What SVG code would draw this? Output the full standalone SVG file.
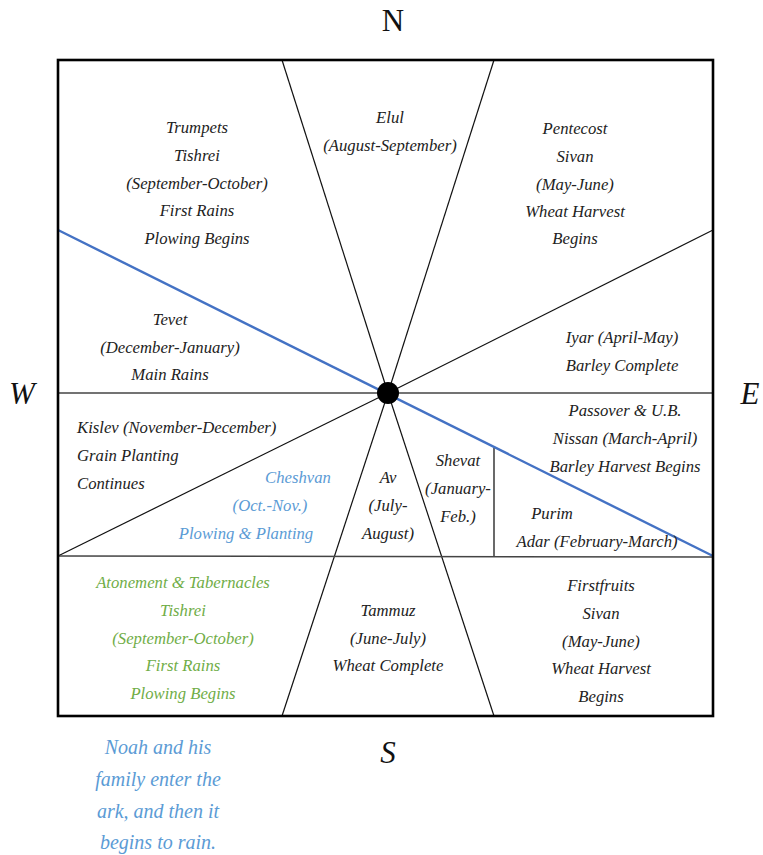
<svg xmlns="http://www.w3.org/2000/svg" width="763" height="855" viewBox="0 0 763 855">
  <style>
    .t { font-family: "Liberation Serif", "DejaVu Serif", serif; font-style: italic; font-size: 16.7px; fill: #222; text-anchor: middle; }
    .t.start { text-anchor: start; }
    .blue { fill: #5b9bd5; }
    .green { fill: #70ad47; }
    .big { font-size: 20px; }
    .dir { font-family: "Liberation Serif", "DejaVu Serif", serif; font-size: 31px; fill: #111; text-anchor: middle; }
    .ln { stroke: #111; stroke-width: 1.2; fill: none; }
    .gray { stroke: #444; stroke-width: 1.6; fill: none; }
  </style>

  <!-- compass points -->
  <g id="compass">
    <text class="dir" x="393" y="31">N</text>
    <text class="dir" x="22" y="404" font-style="italic">W</text>
    <text class="dir" x="750" y="404" font-style="italic">E</text>
    <text class="dir" x="388" y="763" font-style="italic">S</text>
  </g>

  <!-- dividing lines -->
  <g id="connectors">
    <line class="ln" x1="282" y1="60" x2="388" y2="393"/>
    <line class="ln" x1="494" y1="60" x2="388" y2="393"/>
    <line class="ln" x1="713" y1="230" x2="388" y2="393"/>
    <line class="ln" x1="58" y1="556" x2="388" y2="393"/>
    <line class="ln" x1="282" y1="716" x2="388" y2="393"/>
    <line class="ln" x1="494" y1="716" x2="388" y2="393"/>
    <line class="gray" x1="58" y1="393" x2="713" y2="393"/>
    <line class="gray" x1="58" y1="556" x2="713" y2="557"/>
    <line class="gray" x1="494" y1="448" x2="494" y2="556"/>
    <line stroke="#4472c4" stroke-width="2.4" x1="58" y1="230" x2="713" y2="556"/>
  </g>

  <!-- frame and hub -->
  <g id="frame">
    <rect x="58" y="60" width="655" height="656" fill="none" stroke="#000" stroke-width="2.6"/>
    <circle cx="388" cy="393" r="11" fill="#000"/>
  </g>

  <g id="trumpets">
    <text class="t" x="197" y="133">Trumpets</text>
    <text class="t" x="197" y="161">Tishrei</text>
    <text class="t" x="197" y="189">(September-October)</text>
    <text class="t" x="197" y="216">First Rains</text>
    <text class="t" x="197" y="244">Plowing Begins</text>
  </g>

  <g id="elul">
    <text class="t" x="390" y="123">Elul</text>
    <text class="t" x="390" y="151">(August-September)</text>
  </g>

  <g id="pentecost">
    <text class="t" x="575" y="134">Pentecost</text>
    <text class="t" x="575" y="162">Sivan</text>
    <text class="t" x="575" y="190">(May-June)</text>
    <text class="t" x="575" y="217">Wheat Harvest</text>
    <text class="t" x="575" y="244">Begins</text>
  </g>

  <g id="tevet">
    <text class="t" x="170" y="325">Tevet</text>
    <text class="t" x="170" y="353">(December-January)</text>
    <text class="t" x="170" y="380">Main Rains</text>
  </g>

  <g id="iyar">
    <text class="t" x="622" y="343">Iyar (April-May)</text>
    <text class="t" x="622" y="371">Barley Complete</text>
  </g>

  <g id="kislev">
    <text class="t start" x="77" y="433">Kislev (November-December)</text>
    <text class="t start" x="77" y="461">Grain Planting</text>
    <text class="t start" x="77" y="489">Continues</text>
  </g>

  <g id="cheshvan">
    <text class="t blue" x="298" y="483">Cheshvan</text>
    <text class="t blue" x="270" y="511">(Oct.-Nov.)</text>
    <text class="t blue" x="246" y="539">Plowing &amp; Planting</text>
  </g>

  <g id="av">
    <text class="t" x="388" y="483">Av</text>
    <text class="t" x="388" y="511">(July-</text>
    <text class="t" x="388" y="539">August)</text>
  </g>

  <g id="shevat">
    <text class="t" x="458" y="466">Shevat</text>
    <text class="t" x="458" y="494">(January-</text>
    <text class="t" x="458" y="522">Feb.)</text>
  </g>

  <g id="passover">
    <text class="t" x="625" y="416">Passover &amp; U.B.</text>
    <text class="t" x="625" y="444">Nissan (March-April)</text>
    <text class="t" x="625" y="472">Barley Harvest Begins</text>
  </g>

  <g id="purim">
    <text class="t" x="552" y="519">Purim</text>
    <text class="t" x="597" y="547">Adar (February-March)</text>
  </g>

  <g id="atonement">
    <text class="t green" x="183" y="588">Atonement &amp; Tabernacles</text>
    <text class="t green" x="183" y="616">Tishrei</text>
    <text class="t green" x="183" y="644">(September-October)</text>
    <text class="t green" x="183" y="671">First Rains</text>
    <text class="t green" x="183" y="699">Plowing Begins</text>
  </g>

  <g id="tammuz">
    <text class="t" x="388" y="616">Tammuz</text>
    <text class="t" x="388" y="644">(June-July)</text>
    <text class="t" x="388" y="671">Wheat Complete</text>
  </g>

  <g id="firstfruits">
    <text class="t" x="601" y="591">Firstfruits</text>
    <text class="t" x="601" y="619">Sivan</text>
    <text class="t" x="601" y="647">(May-June)</text>
    <text class="t" x="601" y="674">Wheat Harvest</text>
    <text class="t" x="601" y="702">Begins</text>
  </g>

  <g id="noah">
    <text class="t blue big" x="158" y="754">Noah and his</text>
    <text class="t blue big" x="158" y="786">family enter the</text>
    <text class="t blue big" x="158" y="818">ark, and then it</text>
    <text class="t blue big" x="158" y="849">begins to rain.</text>
  </g>
</svg>
